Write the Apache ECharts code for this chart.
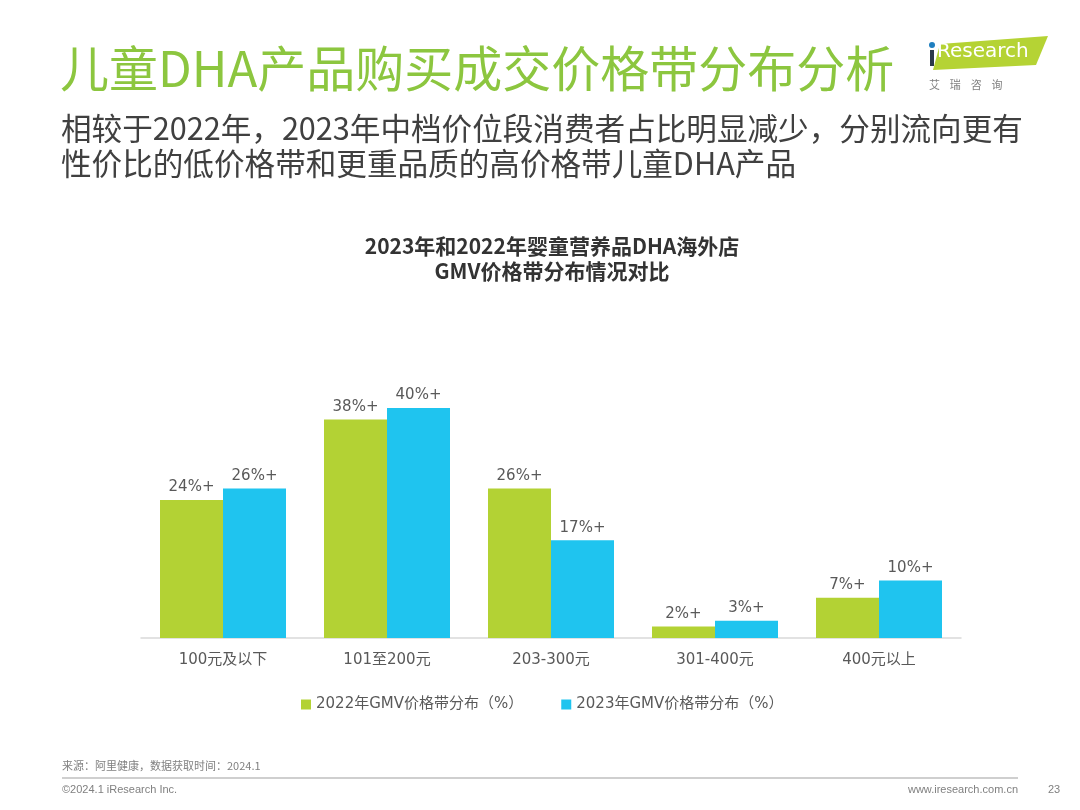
<!DOCTYPE html>
<html>
<head>
<meta charset="utf-8">
<script src="https://cdn.jsdelivr.net/npm/echarts@6/dist/echarts.min.js"></script>
<style>
html,body{margin:0;padding:0;background:#fff;}
#main{width:1080px;height:810px;}
</style>
</head>
<body>
<div id="main"></div>
<script>
var categories = ['100元及以下', '101至200元', '203-300元', '301-400元', '400元以上'];
var series2022 = [24, 38, 26, 2, 7];
var series2023 = [26, 40, 17, 3, 10];
var seriesNames = ['2022年GMV价格带分布（%）', '2023年GMV价格带分布（%）'];
var mainTitle = '儿童DHA产品购买成交价格带分布分析';
var subTitle1 = '相较于2022年，2023年中档价位段消费者占比明显减少，分别流向更有';
var subTitle2 = '性价比的低价格带和更重品质的高价格带儿童DHA产品';
var chartTitle = '2023年和2022年婴童营养品DHA海外店\nGMV价格带分布情况对比';
var sourceText = '来源：阿里健康，数据获取时间：2024.1';

var LF = 'Verdana, "DejaVu Sans", "Noto Sans CJK SC", sans-serif';
var CJK = '"Noto Sans CJK SC", sans-serif';

var chart = echarts.init(document.getElementById('main'));
chart.setOption({
  backgroundColor: '#ffffff',
  animation: false,
  title: {
    text: chartTitle,
    left: 547,
    textAlign: 'center',
    top: 229,
    textStyle: { fontFamily: CJK, fontSize: 21, fontWeight: 'bold', color: '#333333', lineHeight: 25 }
  },
  legend: {
    left: 296,
    top: 692,
    itemWidth: 10,
    itemHeight: 10,
    itemGap: 38,
    icon: 'rect',
    textStyle: { fontFamily: LF, fontSize: 15, color: '#595959' },
    data: seriesNames
  },
  grid: { left: 141, right: 119, top: 408, bottom: 172 },
  xAxis: {
    type: 'category',
    data: categories,
    axisTick: { show: false },
    axisLine: { lineStyle: { color: '#d9d9d9', width: 1.5 } },
    axisLabel: { fontFamily: LF, fontSize: 15, color: '#595959', margin: 15 }
  },
  yAxis: {
    type: 'value',
    min: 0,
    max: 40,
    show: false,
    splitLine: { show: false }
  },
  series: [
    {
      name: seriesNames[0],
      type: 'bar',
      data: series2022,
      barWidth: 63,
      barGap: '0%',
      itemStyle: { color: '#b3d234' },
      label: { show: true, position: 'top', distance: 5, formatter: '{c}%+', fontFamily: LF, fontSize: 15, color: '#595959' }
    },
    {
      name: seriesNames[1],
      type: 'bar',
      data: series2023,
      barWidth: 63,
      barGap: '0%',
      itemStyle: { color: '#1fc4ef' },
      label: { show: true, position: 'top', distance: 5, formatter: '{c}%+', fontFamily: LF, fontSize: 15, color: '#595959' }
    }
  ],
  graphic: [
    { type: 'text', left: 60, top: 44, style: { text: mainTitle, fontFamily: CJK, fontSize: 49, fontWeight: 'normal', fill: '#8cc63f' } },
    { type: 'text', left: 61, top: 113, style: { text: subTitle1, fontFamily: CJK, fontSize: 30.6, fill: '#404040' } },
    { type: 'text', left: 61, top: 148, style: { text: subTitle2, fontFamily: CJK, fontSize: 30.6, fill: '#404040' } },
    // logo
    { type: 'polygon', shape: { points: [[940, 44], [1048, 36], [1036, 65], [933, 70]] }, style: { fill: '#b5d334' } },
    { type: 'circle', shape: { cx: 932, cy: 45, r: 3 }, style: { fill: '#1f7fbf' } },
    { type: 'rect', shape: { x: 930, y: 50, width: 4, height: 16 }, style: { fill: '#2b3a4a' } },
    { type: 'text', left: 937, top: 42, style: { text: 'Research', fontFamily: '"DejaVu Sans", sans-serif', fontSize: 20, fill: '#ffffff' } },
    { type: 'text', left: 929, top: 79, style: { text: '艾    瑞    咨    询', fontFamily: CJK, fontSize: 11, fill: '#7f7f7f' } },
    // footer
    { type: 'text', left: 62, top: 760, style: { text: sourceText, fontFamily: CJK, fontSize: 11, fill: '#808080' } },
    { type: 'line', shape: { x1: 62, y1: 778, x2: 1018, y2: 778 }, style: { stroke: '#bfbfbf', lineWidth: 1.5 } },
    { type: 'text', left: 62, top: 784, style: { text: '©2024.1 iResearch Inc.', fontFamily: '"Liberation Sans", Arial, sans-serif', fontSize: 11, fill: '#808080' } },
    { type: 'text', right: 62, top: 784, style: { text: 'www.iresearch.com.cn', fontFamily: '"Liberation Sans", Arial, sans-serif', fontSize: 11, fill: '#808080' } },
    { type: 'text', left: 1048, top: 784, style: { text: '23', fontFamily: '"Liberation Sans", Arial, sans-serif', fontSize: 11, fill: '#808080' } }
  ]
});
</script>
</body>
</html>
